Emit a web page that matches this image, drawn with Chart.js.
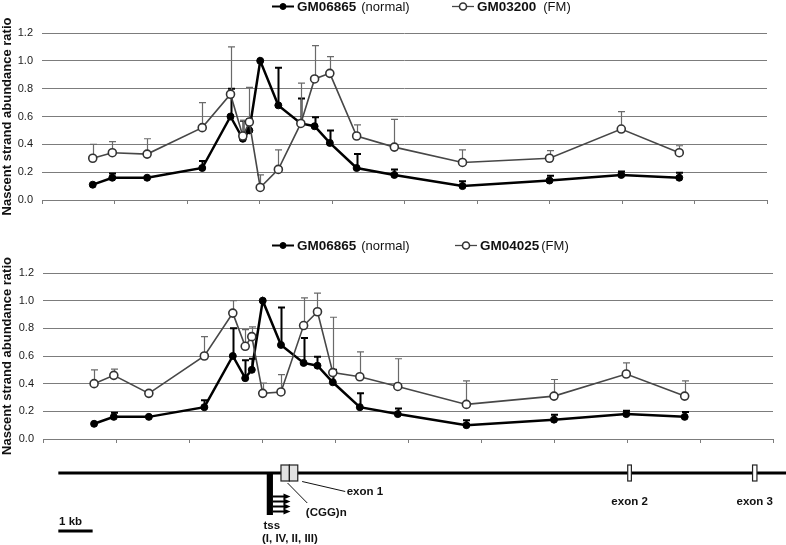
<!DOCTYPE html>
<html>
<head>
<meta charset="utf-8">
<script src="https://cdn.jsdelivr.net/npm/chart.js@4.4.1/dist/chart.umd.min.js"></script>
<style>
  html, body { margin: 0; padding: 0; background: #fff; }
  body { width: 786px; height: 545px; position: relative; overflow: hidden; }
  .panel { position: absolute; left: 0; width: 786px; }
  #topPanel { top: 0; height: 225px; }
  #bottomPanel { top: 225px; height: 320px; }
</style>
</head>
<body>
<div class="panel" id="topPanel"><canvas id="topChart"></canvas></div>
<div class="panel" id="bottomPanel"><canvas id="bottomChart"></canvas></div>
<script>
// ======================================================
// DATA
// ======================================================

// positions of the primer pairs along the locus (axis units, 0-10)
const positions = [0.70, 0.97, 1.45, 2.21, 2.60, 2.77, 2.86, 3.01, 3.26, 3.57, 3.76, 3.97, 4.34, 4.86, 5.80, 7.00, 7.99, 8.79];

// GM06865 (normal) - same in both panels
const normalValues = [0.11, 0.16, 0.16, 0.23, 0.60, 0.44, 0.50, 1.00, 0.68, 0.55, 0.53, 0.41, 0.23, 0.18, 0.10, 0.14, 0.18, 0.16];
const normalErrors = [0, 0.03, 0, 0.05, 0.20, 0.13, 0.08, 0, 0.27, 0.18, 0.065, 0.09, 0.10, 0.04, 0.035, 0.035, 0.025, 0.035];

// GM03200 (FM) - top panel
const gm03200Values = [0.30, 0.34, 0.33, 0.52, 0.76, 0.46, 0.56, 0.09, 0.22, 0.55, 0.87, 0.91, 0.46, 0.38, 0.27, 0.30, 0.51, 0.34];
const gm03200Errors = [0.10, 0.08, 0.11, 0.18, 0.34, 0.11, 0.25, 0.09, 0.14, 0.29, 0.24, 0.12, 0.08, 0.20, 0.09, 0.055, 0.125, 0.05];

// GM04025 (FM) - bottom panel
const gm04025Values = [0.40, 0.46, 0.33, 0.60, 0.91, 0.67, 0.74, 0.33, 0.34, 0.82, 0.92, 0.48, 0.45, 0.38, 0.25, 0.31, 0.47, 0.31];
const gm04025Errors = [0.10, 0.045, 0, 0.14, 0.09, 0.12, 0.07, 0.075, 0.125, 0.20, 0.135, 0.40, 0.18, 0.20, 0.17, 0.12, 0.08, 0.11];

const yTicks = [0.0, 0.2, 0.4, 0.6, 0.8, 1.0, 1.2];
const Y_TITLE = "Nascent strand abundance ratio";

// gene map below the second panel (same axis units)
const geneLine = [0.21, 10.5];
const exons = [
  { name: "exon 1", start: 3.26, end: 3.49, split: true },
  { name: "exon 2", start: 8.01, end: 8.06 },
  { name: "exon 3", start: 9.72, end: 9.78 },
];
const tssBar = [3.065, 3.15];
const tssArrowEnd = 3.39;
const scaleBar = [0.21, 0.68];

const FONT = "'Liberation Sans', Arial, Helvetica, sans-serif";
const GRID_COLOR = "#7c7c7c";

// ======================================================
// HELPERS
// ======================================================

function toPoints(values) {
  return values.map((v, i) => ({ x: positions[i], y: v }));
}

function normalDataset() {
  return {
    label: "GM06865",
    note: "(normal)",
    data: toPoints(normalValues),
    errors: normalErrors,
    errorColor: "#000",
    errorWidth: 2,
    borderColor: "#000",
    backgroundColor: "#000",
    borderWidth: 2.5,
    pointRadius: 3.5,
    pointBorderWidth: 1,
    pointBackgroundColor: "#000",
    pointBorderColor: "#000",
    tension: 0,
    order: 1,
  };
}

function fmDataset(name, values, errors) {
  return {
    label: name,
    note: "(FM)",
    data: toPoints(values),
    errors: errors,
    errorColor: "#6a6a6a",
    errorWidth: 1.2,
    borderColor: "#474747",
    backgroundColor: "#fff",
    borderWidth: 1.6,
    pointRadius: 4,
    pointBorderWidth: 1.6,
    pointBackgroundColor: "#fff",
    pointBorderColor: "#333",
    tension: 0,
    order: 0,
  };
}

// ======================================================
// PLUGINS
// ======================================================

const errorBarPlugin = {
  id: "errorBars",
  beforeDatasetsDraw(chart) {
    const { ctx } = chart;
    const xs = chart.scales.x;
    const ys = chart.scales.y;
    chart.data.datasets.forEach((ds) => {
      ctx.save();
      ctx.strokeStyle = ds.errorColor;
      ctx.lineWidth = ds.errorWidth;
      ds.data.forEach((p, i) => {
        const err = ds.errors[i];
        if (!err) return;
        const px = Math.round(xs.getPixelForValue(p.x)) + 0.5;
        const py = ys.getPixelForValue(p.y);
        const top = ys.getPixelForValue(p.y + err);
        ctx.beginPath();
        ctx.moveTo(px, py);
        ctx.lineTo(px, top);
        ctx.moveTo(px - 3.5, top);
        ctx.lineTo(px + 3.5, top);
        ctx.stroke();
      });
      ctx.restore();
    });
  },
};

function legendPlugin(entries, y) {
  return {
    id: "pairLegend",
    afterDraw(chart) {
      const ctx = chart.ctx;
      ctx.save();
      ctx.textBaseline = "middle";
      entries.forEach((e) => {
        const ds = chart.data.datasets[e.index];
        ctx.strokeStyle = ds.borderColor;
        ctx.lineWidth = ds.borderWidth * 0.8;
        ctx.beginPath();
        ctx.moveTo(e.x, y - 1);
        ctx.lineTo(e.x + 22, y - 1);
        ctx.stroke();
        ctx.beginPath();
        ctx.arc(e.x + 11, y - 1, ds.pointRadius - 0.5, 0, Math.PI * 2);
        ctx.fillStyle = ds.pointBackgroundColor;
        ctx.fill();
        ctx.lineWidth = ds.pointBorderWidth;
        ctx.strokeStyle = ds.pointBorderColor;
        ctx.stroke();

        ctx.fillStyle = "#111";
        ctx.font = "bold 13.5px " + FONT;
        ctx.fillText(ds.label, e.x + 25, y);
        const w = ctx.measureText(ds.label).width;
        ctx.font = "13px " + FONT;
        ctx.fillText(ds.note, e.x + 25 + w + e.gap, y);
      });
      ctx.restore();
    },
  };
}

const geneMapPlugin = {
  id: "geneMap",
  afterDraw(chart) {
    const { ctx } = chart;
    const xs = chart.scales.x;
    const base = chart.chartArea.bottom + 34;
    const px = (v) => xs.getPixelForValue(v);
    ctx.save();

    // backbone
    ctx.strokeStyle = "#000";
    ctx.lineWidth = 3;
    ctx.beginPath();
    ctx.moveTo(px(geneLine[0]), base);
    ctx.lineTo(px(geneLine[1]), base);
    ctx.stroke();

    // tss bar + arrows
    ctx.fillStyle = "#000";
    ctx.fillRect(px(tssBar[0]), base, px(tssBar[1]) - px(tssBar[0]), 42);
    [23.5, 28.5, 33.5, 38.5].forEach((dy) => {
      const x0 = px(tssBar[1]);
      const x1 = px(tssArrowEnd);
      ctx.lineWidth = 2;
      ctx.beginPath();
      ctx.moveTo(x0, base + dy);
      ctx.lineTo(x1 - 6, base + dy);
      ctx.stroke();
      ctx.beginPath();
      ctx.moveTo(x1 - 7, base + dy - 3);
      ctx.lineTo(x1, base + dy);
      ctx.lineTo(x1 - 7, base + dy + 3);
      ctx.closePath();
      ctx.fill();
    });

    // exons
    exons.forEach((ex) => {
      const x0 = px(ex.start);
      const x1 = px(ex.end);
      ctx.lineWidth = 1.2;
      ctx.strokeStyle = "#222";
      if (ex.split) {
        const mid = (x0 + x1) / 2;
        ctx.fillStyle = "#e2e2e2";
        ctx.fillRect(x0, base - 8, x1 - x0, 16);
        ctx.strokeRect(x0, base - 8, mid - x0, 16);
        ctx.strokeRect(mid, base - 8, x1 - mid, 16);
      } else {
        ctx.fillStyle = "#fff";
        ctx.fillRect(x0, base - 8, x1 - x0, 16);
        ctx.strokeRect(x0, base - 8, x1 - x0, 16);
      }
    });

    // labels
    ctx.fillStyle = "#111";
    ctx.font = "bold 11.5px " + FONT;
    ctx.textBaseline = "middle";
    ctx.textAlign = "center";
    exons.slice(1).forEach((ex) => {
      ctx.fillText(ex.name, px((ex.start + ex.end) / 2), base + 28.5);
    });
    ctx.textAlign = "left";
    ctx.fillText(exons[0].name, px(4.16), base + 18.5);
    ctx.fillText("(CGG)n", px(3.60), base + 40);
    ctx.fillText("tss", px(3.02), base + 53);
    ctx.fillText("(I, IV, II, III)", px(3.00), base + 66);
    ctx.fillText("1 kb", px(0.22), base + 48.5);

    // leader lines
    ctx.strokeStyle = "#111";
    ctx.lineWidth = 1;
    ctx.beginPath();
    ctx.moveTo(px(3.35), base + 10);
    ctx.lineTo(px(3.62), base + 30);
    ctx.moveTo(px(3.55), base + 8.5);
    ctx.lineTo(px(4.14), base + 18.5);
    ctx.stroke();

    // scale bar
    ctx.lineWidth = 3;
    ctx.strokeStyle = "#000";
    ctx.beginPath();
    ctx.moveTo(px(scaleBar[0]), base + 58);
    ctx.lineTo(px(scaleBar[1]), base + 58);
    ctx.stroke();

    ctx.restore();
  },
};

// ======================================================
// CHART OPTIONS
// ======================================================

function chartOptions(padTop, padRight, yWidth, xHeight) {
  return {
    responsive: true,
    maintainAspectRatio: false,
    animation: false,
    layout: { padding: { top: padTop, right: padRight, left: 0, bottom: 0 } },
    plugins: {
      legend: { display: false },
      tooltip: { enabled: false },
    },
    scales: {
      x: {
        type: "linear",
        min: 0,
        max: 10,
        ticks: { stepSize: 1, display: false },
        grid: {
          drawOnChartArea: false,
          drawTicks: true,
          tickLength: 4,
          color: GRID_COLOR,
        },
        border: { display: true, color: GRID_COLOR, width: 1 },
        afterFit(scale) {
          scale.height = xHeight;
        },
      },
      y: {
        min: 0,
        max: 1.2,
        afterBuildTicks(scale) {
          scale.ticks = yTicks.map((v) => ({ value: v }));
        },
        ticks: {
          color: "#1a1a1a",
          padding: 9,
          font: { size: 11, family: FONT },
          callback: (v) => Number(v).toFixed(1),
        },
        grid: { color: GRID_COLOR, lineWidth: 1, drawTicks: false },
        border: { display: false },
        title: {
          display: true,
          text: Y_TITLE,
          color: "#111",
          font: { size: 13, weight: "bold", family: FONT },
          padding: { top: 0, bottom: 0 },
        },
        afterFit(scale) {
          scale.width = yWidth;
        },
      },
    },
  };
}

// ======================================================
// CHARTS
// ======================================================

Chart.defaults.font.family = FONT;
Chart.defaults.color = "#222";

const topChart = new Chart(document.getElementById("topChart"), {
  type: "line",
  data: {
    datasets: [normalDataset(), fmDataset("GM03200", gm03200Values, gm03200Errors)],
  },
  options: chartOptions(33, 19, 42, 25),
  plugins: [
    errorBarPlugin,
    legendPlugin([{ index: 0, x: 272, gap: 5 }, { index: 1, x: 452, gap: 7 }], 7.5),
  ],
});

const bottomChart = new Chart(document.getElementById("bottomChart"), {
  type: "line",
  data: {
    datasets: [normalDataset(), fmDataset("GM04025", gm04025Values, gm04025Errors)],
  },
  options: chartOptions(48, 13, 43, 106),
  plugins: [
    errorBarPlugin,
    geneMapPlugin,
    legendPlugin([{ index: 0, x: 272, gap: 5 }, { index: 1, x: 455, gap: 2 }], 21.5),
  ],
});
</script>
</body>
</html>
